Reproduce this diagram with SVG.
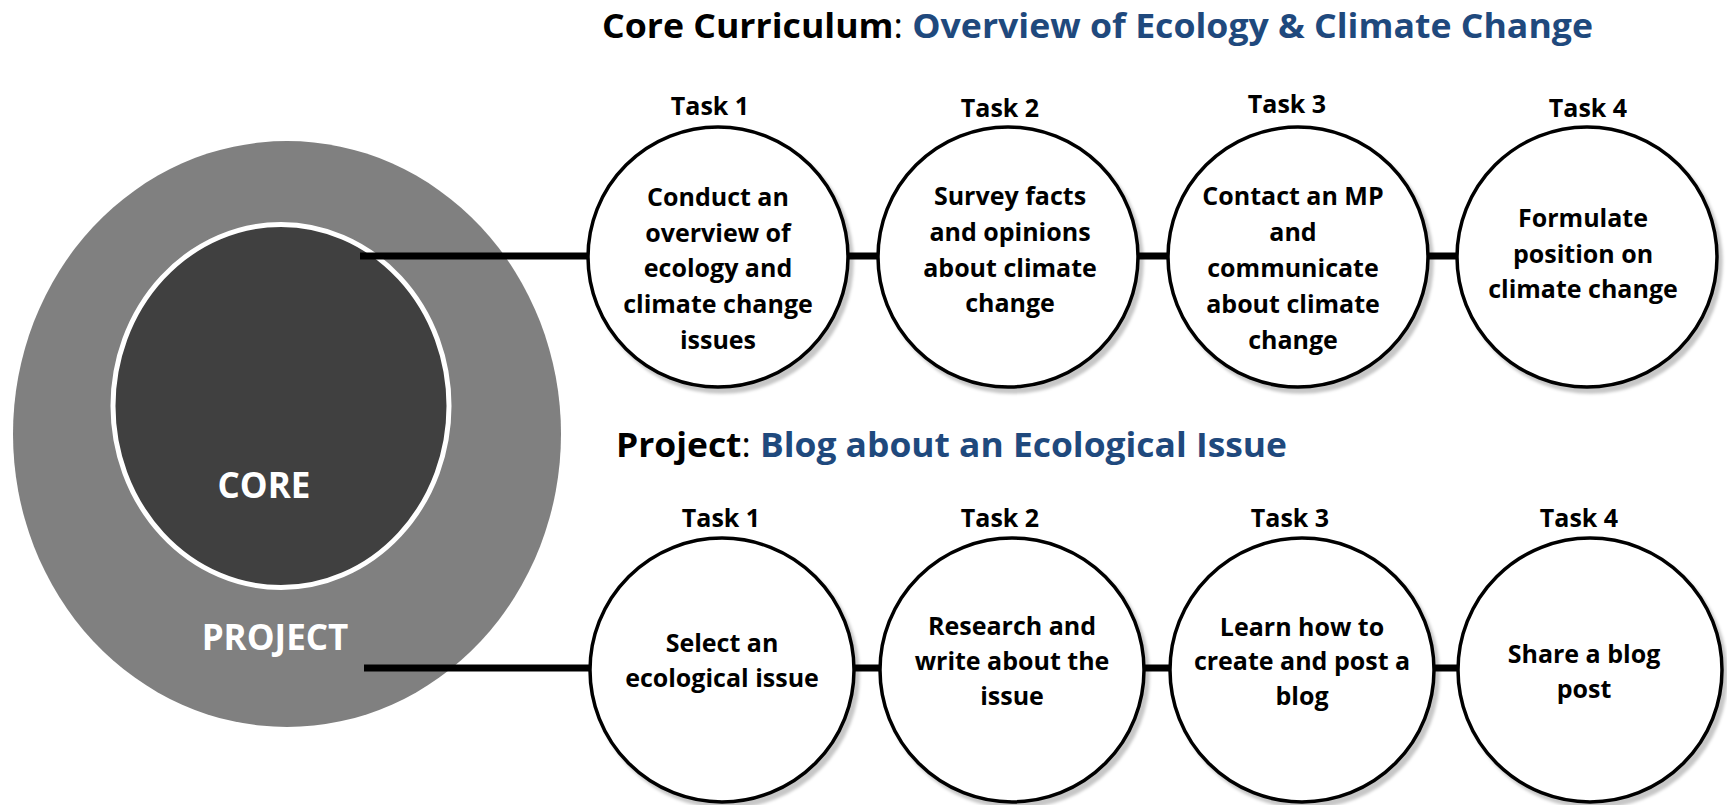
<svg xmlns="http://www.w3.org/2000/svg" width="1727" height="805" viewBox="0 0 1727 805">
  <defs>
    <filter id="shadow" x="-10%" y="-10%" width="125%" height="125%">
      <feDropShadow dx="4" dy="5" stdDeviation="1.5" flood-color="#000" flood-opacity="0.22"/>
    </filter>
    <style>
      .title { font-family: "Open Sans", "Liberation Sans", sans-serif; font-weight: 700; font-size: 34px; fill: #000; }
      .title .sep { font-weight: 400; }
      .title .topic { fill: #1F497D; }
      .task { fill: #fff; stroke: #000; stroke-width: 3.5; filter: url(#shadow); }
      .label { font-family: "Open Sans", "Liberation Sans", sans-serif; font-weight: 700; font-size: 25px; fill: #000; text-anchor: middle; }
      .ring { font-family: "Open Sans", "Liberation Sans", sans-serif; font-weight: 700; font-size: 35px; fill: #fff; text-anchor: middle; }
      .conn { stroke: #000; stroke-width: 7; fill: none; }
    </style>
  </defs>

  <rect width="1727" height="805" fill="#fff"/>

  <!-- headings -->
  <text class="title" x="602" y="38" textLength="991" lengthAdjust="spacingAndGlyphs">Core Curriculum<tspan class="sep">: </tspan><tspan class="topic">Overview of Ecology &amp; Climate Change</tspan></text>
  <text class="title" x="616" y="457" textLength="671" lengthAdjust="spacingAndGlyphs">Project<tspan class="sep">: </tspan><tspan class="topic">Blog about an Ecological Issue</tspan></text>

  <!-- outer ring: project -->
  <g id="project">
    <ellipse cx="287" cy="434" rx="274" ry="293" fill="#808080"/>
    <text class="ring" x="275" y="650">PROJECT</text>
  </g>

  <!-- inner disc: core -->
  <g id="core">
    <ellipse cx="281" cy="406" rx="168" ry="181.5" fill="#404040" stroke="#fff" stroke-width="5"/>
    <text class="ring" x="264" y="498">CORE</text>
  </g>

  <!-- connectors -->
  <g id="connectors">
    <line class="conn" x1="360" y1="256" x2="600" y2="256"/>
    <line class="conn" x1="718" y1="256" x2="1587" y2="256"/>
    <line class="conn" x1="364" y1="668" x2="600" y2="668"/>
    <line class="conn" x1="722" y1="668" x2="1590" y2="668"/>
  </g>

  <!-- core curriculum tasks -->
  <g id="core-task1">
    <text class="label" x="710" y="115">Task 1</text>
    <circle class="task" cx="718" cy="257" r="130"/>
    <text class="label" x="718" y="206">Conduct an</text>
    <text class="label" x="718" y="242">overview of</text>
    <text class="label" x="718" y="277">ecology and</text>
    <text class="label" x="718" y="313">climate change</text>
    <text class="label" x="718" y="349">issues</text>
  </g>
  <g id="core-task2">
    <text class="label" x="1000" y="117">Task 2</text>
    <circle class="task" cx="1008" cy="257" r="130"/>
    <text class="label" x="1010" y="205">Survey facts</text>
    <text class="label" x="1010" y="241">and opinions</text>
    <text class="label" x="1010" y="277">about climate</text>
    <text class="label" x="1010" y="312">change</text>
  </g>
  <g id="core-task3">
    <text class="label" x="1287" y="113">Task 3</text>
    <circle class="task" cx="1298" cy="257" r="130"/>
    <text class="label" x="1293" y="205">Contact an MP</text>
    <text class="label" x="1293" y="241">and</text>
    <text class="label" x="1293" y="277">communicate</text>
    <text class="label" x="1293" y="313">about climate</text>
    <text class="label" x="1293" y="349">change</text>
  </g>
  <g id="core-task4">
    <text class="label" x="1588" y="117">Task 4</text>
    <circle class="task" cx="1587" cy="257" r="130"/>
    <text class="label" x="1583" y="227">Formulate</text>
    <text class="label" x="1583" y="263">position on</text>
    <text class="label" x="1583" y="298">climate change</text>
  </g>

  <!-- project tasks -->
  <g id="project-task1">
    <text class="label" x="721" y="527">Task 1</text>
    <circle class="task" cx="722" cy="670" r="132"/>
    <text class="label" x="722" y="652">Select an</text>
    <text class="label" x="722" y="687">ecological issue</text>
  </g>
  <g id="project-task2">
    <text class="label" x="1000" y="527">Task 2</text>
    <circle class="task" cx="1012" cy="670" r="132"/>
    <text class="label" x="1012" y="635">Research and</text>
    <text class="label" x="1012" y="670">write about the</text>
    <text class="label" x="1012" y="705">issue</text>
  </g>
  <g id="project-task3">
    <text class="label" x="1290" y="527">Task 3</text>
    <circle class="task" cx="1302" cy="670" r="132"/>
    <text class="label" x="1302" y="636">Learn how to</text>
    <text class="label" x="1302" y="670">create and post a</text>
    <text class="label" x="1302" y="705">blog</text>
  </g>
  <g id="project-task4">
    <text class="label" x="1579" y="527">Task 4</text>
    <circle class="task" cx="1590" cy="670" r="132"/>
    <text class="label" x="1584" y="663">Share a blog</text>
    <text class="label" x="1584" y="698">post</text>
  </g>
</svg>
